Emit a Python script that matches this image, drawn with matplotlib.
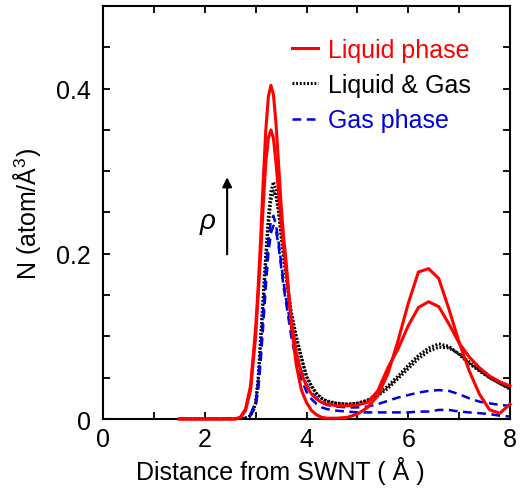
import matplotlib
matplotlib.use("Agg")
import matplotlib.pyplot as plt
from matplotlib.ticker import MultipleLocator

plt.rcParams['font.family'] = ['Liberation Sans', 'DejaVu Sans']
plt.rcParams['mathtext.fontset'] = 'custom'
plt.rcParams['mathtext.rm'] = 'Liberation Sans'
plt.rcParams['mathtext.it'] = 'Liberation Sans:italic'

# ---- data ----
x = [1.5, 2.6, 2.7, 2.8, 2.9, 3.0, 3.05, 3.1, 3.15, 3.2, 3.25, 3.3, 3.35, 3.4, 3.45,
     3.5, 3.55, 3.6, 3.7, 3.8, 3.9, 4.0, 4.1, 4.2, 4.3, 4.4, 4.6, 4.8, 5.0, 5.2,
     5.4, 5.6, 5.8, 6.0, 6.2, 6.4, 6.6, 6.8, 7.0, 7.2, 7.4, 7.6, 7.8, 8.0]

liquid_a = [0, 0, 0.002, 0.012, 0.04, 0.11, 0.16, 0.22, 0.29, 0.35, 0.39, 0.404, 0.393, 0.358, 0.31,
            0.26, 0.22, 0.19, 0.115, 0.065, 0.035, 0.02, 0.01, 0.005, 0.002, 0.001, 0.001, 0.002, 0.006, 0.014,
            0.028, 0.055, 0.095, 0.14, 0.178, 0.182, 0.17, 0.133, 0.093, 0.058, 0.03, 0.011, 0.007, 0.018]

liquid_b = [0, 0, 0.002, 0.01, 0.035, 0.1, 0.15, 0.2, 0.26, 0.31, 0.34, 0.35, 0.34, 0.31, 0.275,
            0.24, 0.21, 0.18, 0.12, 0.08, 0.055, 0.04, 0.03, 0.024, 0.02, 0.018, 0.016, 0.016, 0.017, 0.02,
            0.034, 0.062, 0.085, 0.113, 0.135, 0.142, 0.136, 0.115, 0.092, 0.075, 0.062, 0.052, 0.045, 0.04]

mixed_a = [0, 0, 0, 0.001, 0.004, 0.02, 0.05, 0.1, 0.15, 0.2, 0.245, 0.275, 0.287, 0.278, 0.255,
           0.225, 0.2, 0.175, 0.13, 0.1, 0.075, 0.052, 0.04, 0.031, 0.025, 0.022, 0.019, 0.018, 0.019, 0.023,
           0.03, 0.04, 0.052, 0.065, 0.077, 0.086, 0.091, 0.088, 0.078, 0.067, 0.058, 0.05, 0.043, 0.037]

mixed_b = [0, 0, 0, 0.001, 0.004, 0.018, 0.045, 0.094, 0.143, 0.192, 0.235, 0.265, 0.276, 0.27, 0.25,
           0.222, 0.196, 0.171, 0.127, 0.097, 0.073, 0.051, 0.039, 0.03, 0.025, 0.021, 0.019, 0.018, 0.019, 0.022,
           0.028, 0.037, 0.049, 0.061, 0.073, 0.082, 0.087, 0.086, 0.079, 0.069, 0.059, 0.05, 0.043, 0.036]

gas_a = [0, 0, 0, 0.002, 0.006, 0.02, 0.045, 0.085, 0.13, 0.18, 0.215, 0.24, 0.246, 0.235, 0.215,
         0.19, 0.165, 0.145, 0.11, 0.08, 0.058, 0.042, 0.032, 0.025, 0.02, 0.017, 0.015, 0.014, 0.014, 0.015,
         0.018, 0.022, 0.026, 0.029, 0.032, 0.034, 0.035, 0.034, 0.03, 0.025, 0.021, 0.019, 0.017, 0.016]

gas_b = [0, 0, 0, 0.001, 0.004, 0.015, 0.035, 0.07, 0.115, 0.16, 0.2, 0.225, 0.234, 0.228, 0.21,
         0.185, 0.16, 0.14, 0.1, 0.07, 0.048, 0.033, 0.024, 0.018, 0.014, 0.012, 0.01, 0.009, 0.008, 0.008,
         0.008, 0.008, 0.008, 0.008, 0.009, 0.009, 0.011, 0.011, 0.009, 0.008, 0.007, 0.006, 0.004, 0.003]

labels = ["Liquid phase", "Liquid & Gas", "Gas phase"]
x_ticks = [0, 2, 4, 6, 8]
y_ticks = [0, 0.2, 0.4]
y_tick_labels = ["0", "0.2", "0.4"]

# ---- figure ----
fig = plt.figure(figsize=(5.21, 4.89), dpi=100)
ax = fig.add_axes([0.1977, 0.1411, 0.7812, 0.8446])

red = '#ff0000'
blue = '#0000dd'
ax.plot(x, mixed_a, color='black', lw=2.2, ls=(0, (0.6, 0.6)), label=labels[1])
ax.plot(x, mixed_b, color='black', lw=2.2, ls=(0, (0.6, 0.6)))
ax.plot(x, gas_a, color=blue, lw=1.8, ls=(0, (3.5, 2.2)), label=labels[2])
ax.plot(x, gas_b, color=blue, lw=1.8, ls=(0, (3.5, 2.2)))
ax.plot(x, liquid_a, color=red, lw=2.2, label=labels[0], clip_on=False, zorder=3)
ax.plot(x, liquid_b, color=red, lw=2.2, clip_on=False, zorder=3)

ax.set_xlim(0, 8)
ax.set_ylim(0, 0.5)
ax.set_xticks(x_ticks)
ax.set_yticks(y_ticks)
ax.set_yticklabels(y_tick_labels)
ax.xaxis.set_minor_locator(MultipleLocator(1))
ax.yaxis.set_minor_locator(MultipleLocator(0.05))
ax.tick_params(which='both', direction='in', top=True, right=True, length=5, width=1.3)
ax.tick_params(axis='x', which='major', labelsize=18, pad=6)
ax.tick_params(axis='y', which='major', labelsize=18, pad=9)
for s in ax.spines.values():
    s.set_linewidth(1.5)

ax.set_xlabel("Distance from SWNT ( Å )", fontsize=18)
ax.xaxis.set_label_coords(0.435, -0.09)
ax.set_ylabel("N (atom/Å$^{3}$)", fontsize=18)
ax.yaxis.set_label_coords(-0.147, 0.5)

ax.annotate('', xy=(2.44, 0.296), xytext=(2.44, 0.196),
            arrowprops=dict(arrowstyle='-|>', color='black', lw=1.5, mutation_scale=14))
ax.text(2.06, 0.24, 'ρ', fontsize=20, style='italic', ha='center', va='center')

h, l = ax.get_legend_handles_labels()
order = [l.index(s) for s in labels]
leg = ax.legend([h[i] for i in order], [l[i] for i in order], loc='upper left',
                bbox_to_anchor=(0.44, 0.947), frameon=False, fontsize=18,
                handlelength=1.05, handletextpad=0.4, labelspacing=0.45,
                labelcolor='linecolor', borderaxespad=0)

fig.savefig("out.png", dpi=100)
